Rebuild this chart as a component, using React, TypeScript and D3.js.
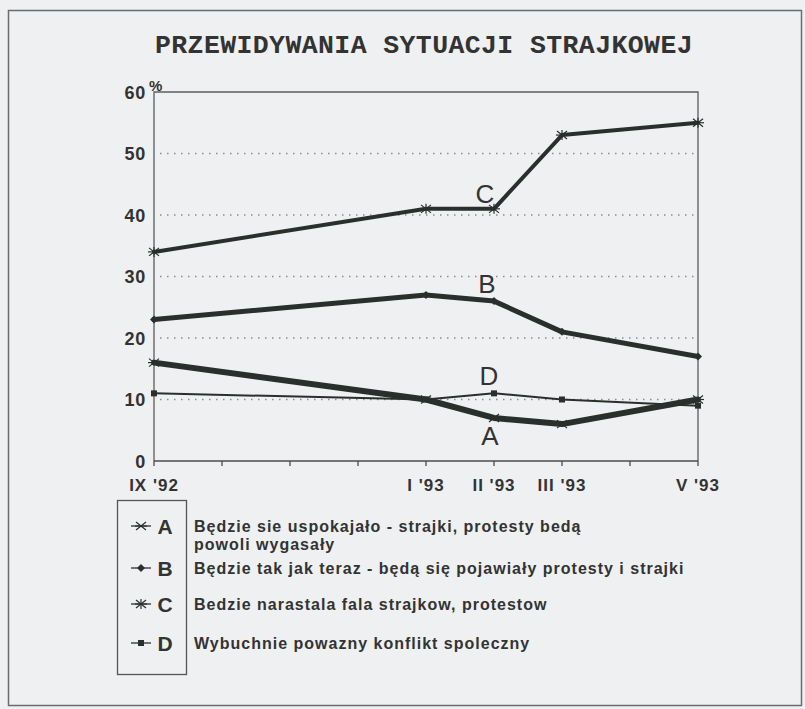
import React from "react";
import * as d3 from "d3";

const monthTicks = ["IX '92", "", "", "", "I '93", "II '93", "III '93", "", "V '93"];
const pointMonths = [0, 4, 5, 6, 8];
const seriesA = [16, 10, 7, 6, 10];
const seriesB = [23, 27, 26, 21, 17];
const seriesC = [34, 41, 41, 53, 55];
const seriesD = [11, 10, 11, 10, 9];
const yTicks = [0, 10, 20, 30, 40, 50, 60];
const seriesNames = ["A", "B", "C", "D"];
const legendTexts = [
  ["Będzie sie uspokajało - strajki, protesty bedą", "powoli wygasały"],
  ["Będzie tak jak teraz - będą się pojawiały protesty i strajki"],
  ["Bedzie narastala fala strajkow, protestow"],
  ["Wybuchnie powazny konflikt spoleczny"],
];
const title = "PRZEWIDYWANIA SYTUACJI STRAJKOWEJ";

const W = 805;
const H = 709;
const ink = "#2b2f2c";
const textCol = "#333";
const sans = "'Liberation Sans', Arial, sans-serif";

function Marker({ kind, x, y }: { kind: string; x: number; y: number }) {
  if (kind === "A") {
    return (
      <g stroke={ink} strokeWidth={1.2}>
        <line x1={x - 5} y1={y - 4} x2={x + 5} y2={y + 4} />
        <line x1={x - 5} y1={y + 4} x2={x + 5} y2={y - 4} />
        <line x1={x - 6} y1={y} x2={x + 6} y2={y} />
      </g>
    );
  }
  if (kind === "B") {
    return <path d={`M${x},${y - 4}L${x + 4},${y}L${x},${y + 4}L${x - 4},${y}Z`} fill={ink} />;
  }
  if (kind === "C") {
    return (
      <g stroke={ink} strokeWidth={1.2}>
        <line x1={x - 5} y1={y - 4} x2={x + 5} y2={y + 4} />
        <line x1={x - 5} y1={y + 4} x2={x + 5} y2={y - 4} />
        <line x1={x} y1={y - 5} x2={x} y2={y + 5} />
        <line x1={x - 6} y1={y} x2={x + 6} y2={y} />
      </g>
    );
  }
  return <rect x={x - 3} y={y - 3} width={6} height={6} fill={ink} />;
}

export default function App() {
  const x = d3.scaleLinear().domain([0, 8]).range([154, 698]);
  const y = d3.scaleLinear().domain([0, 60]).range([461, 92]);
  const line = d3
    .line<number>()
    .x((_, i) => x(pointMonths[i]))
    .y((d) => y(d));

  const series = [
    { name: "A", data: seriesA, w: 6 },
    { name: "B", data: seriesB, w: 5 },
    { name: "C", data: seriesC, w: 4 },
    { name: "D", data: seriesD, w: 2 },
  ];
  const labelPos: Record<string, [number, number]> = {
    C: [485, 194],
    B: [487, 284],
    D: [489, 376],
    A: [490, 436],
  };
  const legendY = [526, 568, 604, 643];

  return (
    <svg width={W} height={H} style={{ position: "absolute", left: 0, top: 0 }}>
      <rect x={0} y={0} width={W} height={H} fill="#eef0f2" />
      <rect x={8.5} y={10.5} width={793} height={695} fill="none" stroke="#6a6d70" strokeWidth={1.5} />
      <text
        x={424}
        y={53}
        textAnchor="middle"
        fontFamily="'Liberation Mono', 'DejaVu Sans Mono', monospace"
        fontWeight="bold"
        fontSize={26.5}
        letterSpacing={0.4}
        fill={textCol}
      >
        {title}
      </text>

      {/* gridlines */}
      {yTicks
        .filter((t) => t > 0 && t < 60)
        .map((t) => (
          <line
            key={t}
            x1={x(0) + 6}
            x2={x(8) - 4}
            y1={y(t)}
            y2={y(t)}
            stroke="#8a8d90"
            strokeWidth={1.4}
            strokeDasharray="1.5 5.5"
          />
        ))}

      {/* frame */}
      <path
        d={`M${x(0)},${y(0)}V${y(60)}H${x(8)}V${y(0)}`}
        fill="none"
        stroke="#5a5d60"
        strokeWidth={1.3}
      />
      <line x1={x(0)} x2={x(8)} y1={y(0)} y2={y(0)} stroke="#4a4d50" strokeWidth={1.5} />
      {monthTicks.map((_, i) => (
        <line key={i} x1={x(i)} x2={x(i)} y1={y(0)} y2={y(0) + 5} stroke="#4a4d50" strokeWidth={1.3} />
      ))}

      {/* y labels */}
      {yTicks.map((t) => (
        <text
          key={t}
          x={146}
          y={y(t) + 6.5}
          textAnchor="end"
          fontFamily={sans}
          fontWeight="bold"
          fontSize={18}
          letterSpacing={0.8}
          fill={textCol}
        >
          {t}
        </text>
      ))}
      <text x={149} y={91} fontFamily={sans} fontWeight="bold" fontSize={15} fill={textCol}>
        %
      </text>

      {/* x labels */}
      {monthTicks.map((l, i) =>
        l ? (
          <text
            key={i}
            x={x(i)}
            y={491}
            textAnchor="middle"
            fontFamily={sans}
            fontWeight="bold"
            fontSize={17}
            letterSpacing={1}
            fill={textCol}
          >
            {l}
          </text>
        ) : null
      )}

      {/* lines */}
      {series.map((s) => (
        <g key={s.name}>
          <path
            d={line(s.data) || ""}
            fill="none"
            stroke={ink}
            strokeWidth={s.w}
            strokeLinejoin="round"
            strokeLinecap="round"
          />
          {s.data.map((v, i) => (
            <Marker key={i} kind={s.name} x={x(pointMonths[i])} y={y(v)} />
          ))}
          <text
            x={labelPos[s.name][0]}
            y={labelPos[s.name][1] + 9}
            textAnchor="middle"
            fontFamily={sans}
            fontSize={26}
            fill={textCol}
          >
            {s.name}
          </text>
        </g>
      ))}

      {/* legend */}
      <rect x={117.5} y={500.5} width={69} height={174} fill="none" stroke="#555" strokeWidth={1.3} />
      {seriesNames.map((n, i) => (
        <g key={n}>
          <line x1={131} x2={151} y1={legendY[i]} y2={legendY[i]} stroke={ink} strokeWidth={1.3} />
          <Marker kind={n} x={141} y={legendY[i]} />
          <text
            x={165}
            y={legendY[i] + 8}
            textAnchor="middle"
            fontFamily={sans}
            fontWeight="bold"
            fontSize={21}
            fill={textCol}
          >
            {n}
          </text>
          {legendTexts[i].map((t, j) => (
            <text
              key={j}
              x={194}
              y={legendY[i] + 6 + j * 18}
              fontFamily={sans}
              fontWeight="bold"
              fontSize={16}
              letterSpacing={1}
              fill={textCol}
            >
              {t}
            </text>
          ))}
        </g>
      ))}
    </svg>
  );
}
